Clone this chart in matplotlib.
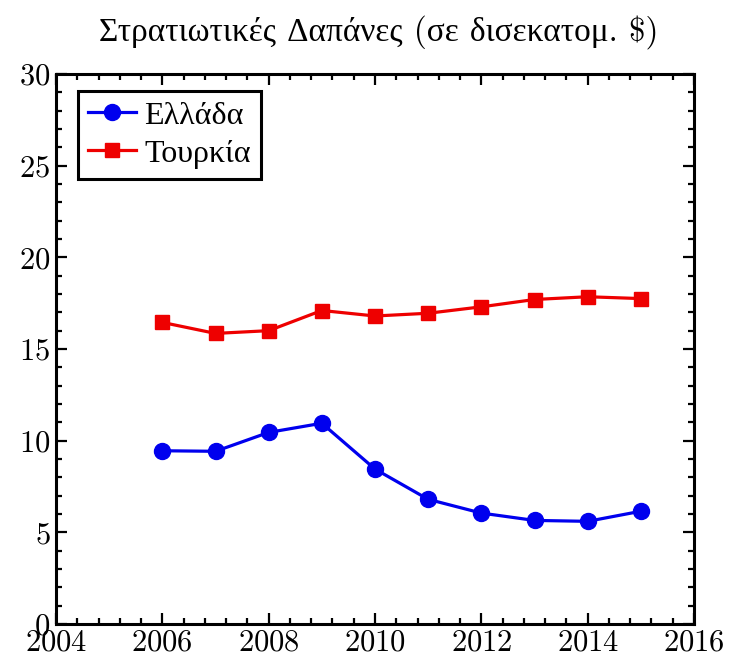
import matplotlib
matplotlib.use("Agg")
import matplotlib.pyplot as plt
from matplotlib.ticker import MultipleLocator

years = [2006, 2007, 2008, 2009, 2010, 2011, 2012, 2013, 2014, 2015]
greece = [9.45, 9.42, 10.45, 10.95, 8.45, 6.8, 6.05, 5.65, 5.6, 6.15]
turkey = [16.45, 15.85, 16.0, 17.1, 16.8, 16.95, 17.3, 17.7, 17.85, 17.75]
labels = ["Ελλάδα", "Τουρκία"]
title = "Στρατιωτικές Δαπάνες (σε δισεκατομ. $)"

plt.rcParams['font.family'] = ['cmr10', 'Liberation Serif', 'DejaVu Serif']
plt.rcParams['axes.formatter.use_mathtext'] = True
plt.rcParams['mathtext.fontset'] = 'cm'

fig = plt.figure(figsize=(7.3, 6.58), dpi=100)
ax = fig.add_axes([56/730, 1-624/658, 638/730, 550/658])

ax.plot(years, greece, color='#0000ee', lw=2.3, marker='o', ms=11.5, label=labels[0])
ax.plot(years, turkey, color='#ee0000', lw=2.3, marker='s', ms=10, label=labels[1])

ax.set_xlim(2004, 2016)
ax.set_ylim(0, 30)
ax.xaxis.set_major_locator(MultipleLocator(2))
ax.xaxis.set_minor_locator(MultipleLocator(0.4))
ax.yaxis.set_major_locator(MultipleLocator(5))
ax.yaxis.set_minor_locator(MultipleLocator(1))
ax.tick_params(which='both', direction='in', top=True, right=True, width=1.6, labelsize=22)
ax.tick_params(which='major', length=8, pad=4)
ax.tick_params(which='minor', length=4.5)
for s in ax.spines.values():
    s.set_linewidth(2.2)

leg = ax.legend(loc='upper left', bbox_to_anchor=(22/638, 1-17/550), borderaxespad=0,
                fontsize=23, fancybox=False, framealpha=1, edgecolor='black',
                handlelength=1.5, handletextpad=0.25, borderpad=0.32, labelspacing=0.3)
leg.get_frame().set_linewidth(2.2)

fig.text(379/730, 1-32/658, title, ha='center', va='center', fontsize=24)

fig.savefig("out.png", dpi=100)
